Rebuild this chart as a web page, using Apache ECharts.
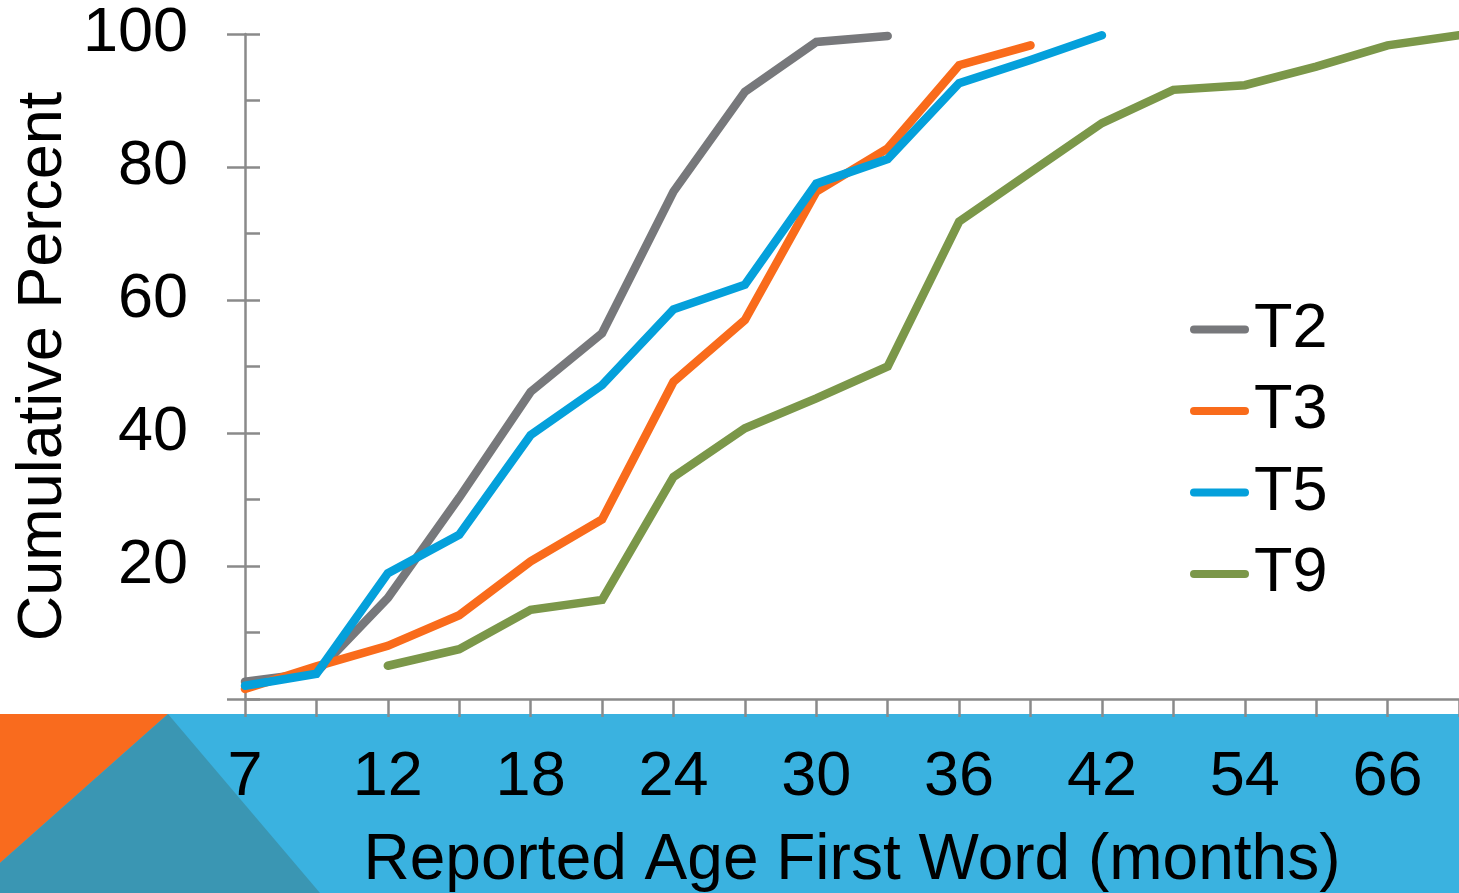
<!DOCTYPE html>
<html>
<head>
<meta charset="utf-8">
<title>Reported Age First Word</title>
<script src="https://cdn.jsdelivr.net/npm/echarts@6.0.0/dist/echarts.min.js"></script>
<style>
  html, body { margin: 0; padding: 0; background: #ffffff; }
  #chart { width: 1459px; height: 893px; }
</style>
</head>
<body>
<div id="chart"></div>
<script>
// Age in months (only every other label is printed on the axis)
const ages = ['7', '9', '12', '15', '18', '21', '24', '27', '30', '33', '36', '39', '42', '48', '54', '60', '66', '72'];

// Cumulative percent of children who had said a first word, per time point
const t2 = [2.6, 4.0, 15.2, 30.3, 46.2, 55.0, 76.3, 91.3, 98.8, 99.7, null, null, null, null, null, null, null, null];
const t3 = [1.5, 4.9, 8.0, 12.6, 20.7, 27.0, 47.7, 57.0, 76.3, 82.8, 95.3, 98.3, null, null, null, null, null, null];
const t5 = [2.0, 3.8, 18.9, 24.7, 39.7, 47.2, 58.6, 62.3, 77.5, 81.2, 92.6, 96.1, 99.8, null, null, null, null, null];
const t9 = [null, null, 5.0, 7.5, 13.4, 14.9, 33.4, 40.7, 45.2, 50.0, 71.8, 79.2, 86.6, 91.6, 92.3, 95.1, 98.3, 99.8];

const seriesNames = ['T2', 'T3', 'T5', 'T9'];
const seriesValues = [t2, t3, t5, t9];
const seriesColors = ['#77787B', '#F96B1B', '#04A0DB', '#7B9749'];

const yTicks = [0, 20, 40, 60, 80, 100];

const FONT = '"Liberation Sans", Arial, sans-serif';
const AXIS_GRAY = '#8A8A8A';

const chart = echarts.init(document.getElementById('chart'), null, { renderer: 'canvas' });

chart.setOption({
  animation: false,
  backgroundColor: '#ffffff',
  textStyle: { fontFamily: FONT },
  // decorative footer band behind the category axis
  graphic: [
    { type: 'rect', z: -10, shape: { x: 0, y: 714, width: 1459, height: 179 }, style: { fill: '#3AB2E0' } },
    { type: 'polygon', z: -9, shape: { points: [[0, 714], [168, 714], [0, 863]] }, style: { fill: '#F96B1E' } },
    { type: 'polygon', z: -9, shape: { points: [[168, 714], [320, 893], [0, 893], [0, 863]] }, style: { fill: '#3A96B3' } }
  ],
  grid: { left: 245, right: 0, top: 34, bottom: 194, containLabel: false, outerBoundsMode: 'none' },
  legend: {
    orient: 'vertical',
    left: 1185,
    top: 293,
    itemGap: 18.5,
    itemWidth: 59,
    itemHeight: 8,
    icon: 'path://M4 0H55A4 4 0 0 1 55 8H4A4 4 0 0 1 4 0Z',
    itemStyle: { borderWidth: 0 },
    textStyle: { fontFamily: FONT, fontSize: 63, lineHeight: 63, color: '#000000', padding: 0 },
    data: seriesNames
  },
  xAxis: {
    type: 'category',
    data: ages,
    boundaryGap: false,
    name: 'Reported Age First Word (months)',
    nameLocation: 'middle',
    nameGap: 130,
    nameMoveOverlap: false,
    nameTextStyle: { fontFamily: FONT, fontSize: 64, lineHeight: 64, color: '#000000' },
    axisLine: { show: true, lineStyle: { color: AXIS_GRAY, width: 2.5 } },
    axisTick: { show: true, interval: 0, inside: false, length: 18, lineStyle: { color: AXIS_GRAY, width: 2.5 } },
    axisLabel: { interval: 1, margin: 47, fontFamily: FONT, fontSize: 63, lineHeight: 63, color: '#000000' },
    splitLine: { show: false }
  },
  yAxis: [
    {
      // minor ticks every 10, drawn inside the plot
      type: 'value',
      min: 0,
      max: 100,
      interval: 10,
      position: 'left',
      axisLine: { show: true, lineStyle: { color: AXIS_GRAY, width: 2.5 } },
      axisTick: { show: true, inside: true, length: 15, lineStyle: { color: AXIS_GRAY, width: 2.5 } },
      axisLabel: { show: false },
      splitLine: { show: false }
    },
    {
      // major ticks and labels every 20, drawn outside
      type: 'value',
      min: 0,
      max: 100,
      interval: 20,
      position: 'left',
      offset: 0,
      name: 'Cumulative Percent',
      nameLocation: 'middle',
      nameGap: 170,
      nameRotate: 90,
      nameMoveOverlap: false,
      nameTextStyle: { fontFamily: FONT, fontSize: 63, lineHeight: 63, color: '#000000' },
      axisLine: { show: false },
      axisTick: { show: true, inside: false, length: 18, lineStyle: { color: AXIS_GRAY, width: 2.5 } },
      axisLabel: {
        margin: 57,
        fontFamily: FONT,
        fontSize: 63,
        color: '#000000',
        formatter: function (v) { return (v === 0 || yTicks.indexOf(v) < 0) ? '' : String(v); }
      },
      splitLine: { show: false }
    }
  ],
  series: seriesNames.map(function (name, i) {
    return {
      name: name,
      type: 'line',
      xAxisIndex: 0,
      yAxisIndex: 0,
      data: seriesValues[i],
      color: seriesColors[i],
      symbol: 'none',
      showSymbol: false,
      connectNulls: false,
      clip: false,
      lineStyle: { color: seriesColors[i], width: 8.5, cap: 'round', join: 'miter' },
      emphasis: { disabled: true }
    };
  })
});
</script>
</body>
</html>
